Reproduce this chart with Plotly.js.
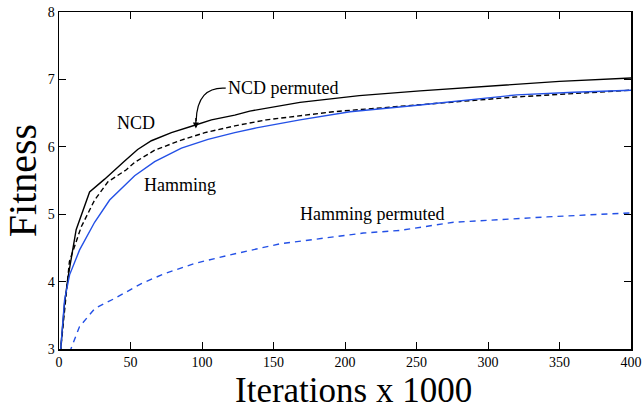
<!DOCTYPE html>
<html>
<head>
<meta charset="utf-8">
<script src="https://cdn.plot.ly/plotly-3.0.1.min.js"></script>
<style>html,body{margin:0;padding:0;background:#fff;}#chart{width:644px;height:410px;}</style>
</head>
<body>
<div id="chart"></div>
<script>
// Iterations (x1000) and fitness values per series
const ncdX = [1, 3.9, 6.2, 12, 21.4, 31.9, 45.9, 55, 64.6, 78.6, 94.9, 106.6, 122.9, 133.4, 168.5, 210, 252.5, 300, 350, 400];
const ncdY = [2.95, 3.68, 4.05, 4.77, 5.33, 5.52, 5.79, 5.96, 6.09, 6.21, 6.32, 6.40, 6.47, 6.53, 6.66, 6.76, 6.83, 6.90, 6.97, 7.02];

const ncdPermX = [1, 4, 7.3, 15.5, 24.9, 34.2, 47.1, 53, 66.9, 85.6, 102, 122.9, 145, 191.8, 252.5, 320, 360, 400];
const ncdPermY = [2.95, 3.65, 4.30, 4.81, 5.21, 5.48, 5.66, 5.77, 5.95, 6.10, 6.21, 6.31, 6.40, 6.52, 6.62, 6.74, 6.79, 6.84];

const hamX = [1, 3.9, 7.4, 14.4, 24.9, 35.4, 52.9, 66.9, 85.6, 104.2, 122.9, 138, 168.5, 203.5, 252.5, 320, 360, 400];
const hamY = [2.95, 3.73, 4.10, 4.47, 4.88, 5.21, 5.57, 5.78, 5.98, 6.11, 6.21, 6.28, 6.40, 6.52, 6.62, 6.77, 6.81, 6.84];

const hamPermX = [7, 8.5, 14.3, 20.2, 25, 38.9, 57.6, 73.9, 95, 118.2, 134.6, 154.4, 212.8, 238.5, 275.9, 341.3, 400];
const hamPermY = [2.95, 3.01, 3.33, 3.48, 3.60, 3.75, 3.97, 4.12, 4.27, 4.39, 4.47, 4.56, 4.72, 4.76, 4.88, 4.96, 5.02];

const xTicks = [0, 50, 100, 150, 200, 250, 300, 350, 400];
const yTicks = [3, 4, 5, 6, 7, 8];

const BLUE = '#2350e6';
const FONT = 'Liberation Serif';

const traces = [
  {x: ncdX, y: ncdY, mode: 'lines', name: 'NCD', line: {color: '#000', width: 1.4}},
  {x: ncdPermX, y: ncdPermY, mode: 'lines', name: 'NCD permuted', line: {color: '#000', width: 1.4, dash: '5px,3px'}},
  {x: hamX, y: hamY, mode: 'lines', name: 'Hamming', line: {color: BLUE, width: 1.4}},
  {x: hamPermX, y: hamPermY, mode: 'lines', name: 'Hamming permuted', line: {color: BLUE, width: 1.4, dash: '6px,5px'}}
];

const axisCommon = {
  showline: true, mirror: 'ticks', linecolor: '#000', linewidth: 1.5,
  ticks: 'inside', ticklen: 7, tickwidth: 1, tickcolor: '#000',
  showgrid: false, zeroline: false,
  tickfont: {family: FONT, size: 14, color: '#000'}
};

const layout = {
  width: 644, height: 410,
  margin: {l: 59, r: 13, t: 12, b: 61},
  paper_bgcolor: '#fff', plot_bgcolor: '#fff',
  showlegend: false,
  font: {family: FONT, color: '#000'},
  xaxis: Object.assign({}, axisCommon, {
    range: [0, 400], tickvals: xTicks, ticktext: xTicks.map(String)
  }),
  yaxis: Object.assign({}, axisCommon, {
    range: [3, 8], tickvals: yTicks, ticktext: yTicks.map(String),
    title: {text: 'Fitness', font: {family: FONT, size: 40, color: '#000'}, standoff: 7}
  }),
  shapes: [
    {type: 'path', xref: 'x', yref: 'y', path: 'M 116.6 6.87 Q 96.5 6.9 95.9 6.38', line: {color: '#000', width: 1.2}}
  ],
  annotations: [
    {x: 0.514, y: -0.062, xref: 'paper', yref: 'paper', yanchor: 'top', showarrow: false, borderpad: 0, text: 'Iterations x 1000', font: {family: FONT, size: 35, color: '#000'}},
    {x: 95.7, y: 6.27, xref: 'x', yref: 'y', ax: 0, ay: -12, showarrow: true, arrowhead: 2, arrowsize: 1, arrowwidth: 1.2, arrowcolor: '#000', text: ''},
    {x: 116.6, y: 6.87, xref: 'x', yref: 'y', xanchor: 'left', yanchor: 'middle', showarrow: false, text: 'NCD permuted', font: {family: FONT, size: 18, color: '#000'}},
    {x: 53.6, y: 6.35, xref: 'x', yref: 'y', showarrow: false, text: 'NCD', font: {family: FONT, size: 18, color: '#000'}},
    {x: 84.8, y: 5.43, xref: 'x', yref: 'y', showarrow: false, text: 'Hamming', font: {family: FONT, size: 18, color: '#000'}},
    {x: 218.7, y: 5.0, xref: 'x', yref: 'y', showarrow: false, text: 'Hamming permuted', font: {family: FONT, size: 18, color: '#000'}}
  ]
};

Plotly.newPlot('chart', traces, layout, {displayModeBar: false, staticPlot: true});
</script>
</body>
</html>
